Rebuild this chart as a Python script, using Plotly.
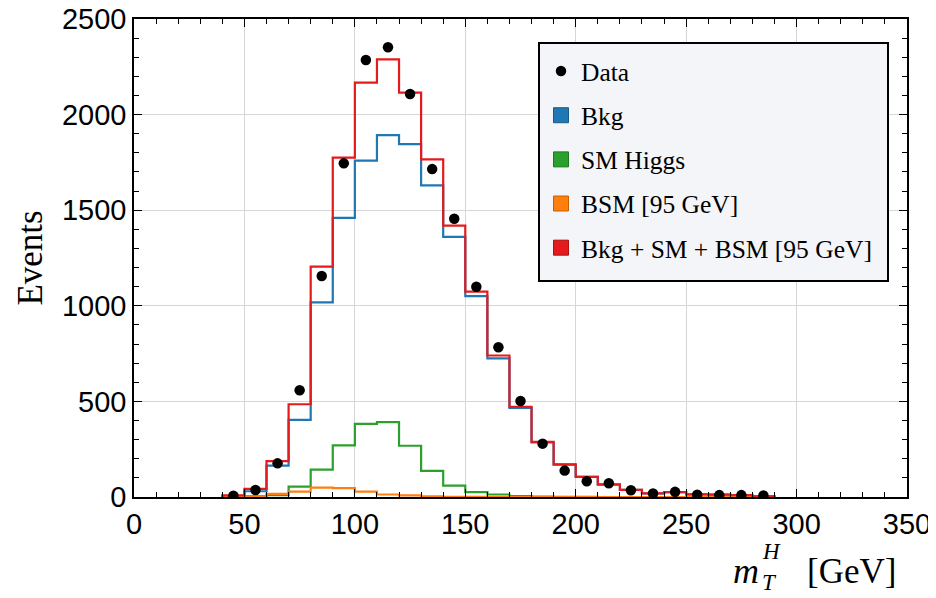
import plotly.graph_objects as go

# ---- data ----
bin_edges = [40, 50, 60, 70, 80, 90, 100, 110, 120, 130, 140, 150, 160, 170,
             180, 190, 200, 210, 220, 230, 240, 250, 260, 270, 280, 290]
bin_centers = [45, 55, 65, 75, 85, 95, 105, 115, 125, 135, 145, 155, 165, 175,
               185, 195, 205, 215, 225, 235, 245, 255, 265, 275, 285]
data_counts = [7, 37, 176, 558, 1156, 1745, 2286, 2352, 2108, 1715, 1455, 1100, 783,
               502, 279, 138, 82, 72, 35, 18, 27, 12, 10, 10, 8]
bkg = [5, 30, 164, 403, 1018, 1460, 1759, 1893, 1846, 1630, 1361, 1051, 725,
       466, 285, 169, 105, 65, 37, 19, 26, 14, 12, 10, 4]
sm_higgs = [1, 5, 10, 54, 143, 270, 382, 392, 268, 137, 59, 26, 13,
            5, 2, 1, 1, 0, 0, 0, 0, 0, 0, 0, 0]
bsm_95 = [1, 4, 16, 28, 49, 46, 28, 13, 8, 3, 1, 1, 0,
          0, 0, 0, 0, 0, 0, 0, 0, 0, 0, 0, 0]
total = [8, 42, 188, 485, 1205, 1775, 2167, 2289, 2115, 1766, 1419, 1074, 740,
         472, 288, 171, 106, 66, 37, 19, 26, 14, 12, 10, 4]

x_ticks = [0, 50, 100, 150, 200, 250, 300, 350]
y_ticks = [0, 500, 1000, 1500, 2000, 2500]

C_BKG = "#1f77b4"
C_SM = "#2ca02c"
C_BSM = "#ff7f0e"
C_TOT = "#e41a1c"

SERIF = "Liberation Serif"
SANS = "Liberation Sans"


def step_xy(edges, vals):
    xs = [edges[0]] + list(edges)
    ys = [0] + list(vals) + [vals[-1]]
    xs.append(edges[-1])
    ys.append(0)
    return xs, ys


fig = go.Figure()

for vals, col in [(bkg, C_BKG), (sm_higgs, C_SM), (bsm_95, C_BSM), (total, C_TOT)]:
    xs, ys = step_xy(bin_edges, vals)
    fig.add_trace(go.Scatter(x=xs, y=ys, mode="lines", line=dict(color=col, width=2.2, shape="hv"),
                             showlegend=False, hoverinfo="skip"))

fig.add_trace(go.Scatter(x=bin_centers, y=data_counts, mode="markers", name="Data",
                         marker=dict(color="black", size=10.5), legendrank=1, legendgroup="a"))

for i, (name, col, edge) in enumerate([("Bkg", C_BKG, "#165a8a"), ("SM Higgs", C_SM, "#1f7a1f"),
                                       ("BSM [95 GeV]", C_BSM, "#c85f00"),
                                       ("Bkg + SM + BSM [95 GeV]", C_TOT, "#a81214")]):
    fig.add_trace(go.Scatter(x=[None], y=[None], mode="markers", name=name,
                             marker=dict(symbol="square", color=col, size=15,
                                         line=dict(color=edge, width=1)),
                             legendrank=2 + i, legendgroup="g%d" % i))

axis_common = dict(
    showline=True, linecolor="black", linewidth=1.6, mirror="allticks",
    ticks="inside", ticklen=8, tickwidth=1.4, tickcolor="black",
    showgrid=True, gridcolor="#d6d6d6", gridwidth=1, zeroline=False,
    tickfont=dict(family=SANS, size=29, color="black"), automargin=False,
    ticklabeloverflow="allow",
)

fig.update_xaxes(range=[0, 350], tickvals=x_ticks, ticktext=[str(v) for v in x_ticks],
                 minor=dict(ticks="inside", dtick=10, tick0=0, ticklen=5, tickwidth=1.2,
                            tickcolor="black", showgrid=False),
                 **axis_common)
fig.update_yaxes(range=[0, 2500], tickvals=y_ticks, ticktext=[str(v) for v in y_ticks],
                 minor=dict(ticks="inside", dtick=100, tick0=0, ticklen=5, tickwidth=1.2,
                            tickcolor="black", showgrid=False),
                 title=dict(text="Events", font=dict(family=SERIF, size=35, color="black"), standoff=9),
                 **axis_common)

# page offset (body margin) of 8px is accounted for in the figure size
OFF = 8
W, H = 936 - OFF, 598 - OFF
L, R, T, B = 134 - OFF, 29, 19 - OFF, 101
pw, ph = W - L - R, H - T - B


def px(xp):
    return (xp - OFF - L) / pw


def py(yp):
    return (H - B - (yp - OFF)) / ph


fig.update_layout(
    width=W, height=H,
    margin=dict(l=L, r=R, t=T, b=B, autoexpand=False),
    plot_bgcolor="white", paper_bgcolor="white",
    shapes=[dict(type="rect", xref="paper", yref="paper",
                 x0=px(539), x1=px(888), y0=py(281), y1=py(43),
                 fillcolor="#f4f5f8", line=dict(color="black", width=2), layer="above")],
    legend=dict(x=px(541), y=py(48), xanchor="left", yanchor="top",
                bgcolor="rgba(0,0,0,0)", borderwidth=0,
                font=dict(family=SERIF, size=25.5, color="black"),
                traceorder="grouped", tracegroupgap=8, itemwidth=30),
    annotations=[
        dict(text="<i>m</i>", x=px(761), y=py(571), xref="paper", yref="paper",
             xanchor="right", yanchor="middle", showarrow=False,
             font=dict(family=SERIF, size=36, color="black")),
        dict(text="<i>T</i>", x=px(760), y=py(582), xref="paper", yref="paper",
             xanchor="left", yanchor="middle", showarrow=False,
             font=dict(family=SERIF, size=23, color="black")),
        dict(text="<i>H</i>", x=px(760), y=py(551), xref="paper", yref="paper",
             xanchor="left", yanchor="middle", showarrow=False,
             font=dict(family=SERIF, size=23, color="black")),
        dict(text="[GeV]", x=px(898), y=py(571), xref="paper", yref="paper",
             xanchor="right", yanchor="middle", showarrow=False,
             font=dict(family=SERIF, size=35, color="black")),
    ],
)

fig.write_html("out.html")
